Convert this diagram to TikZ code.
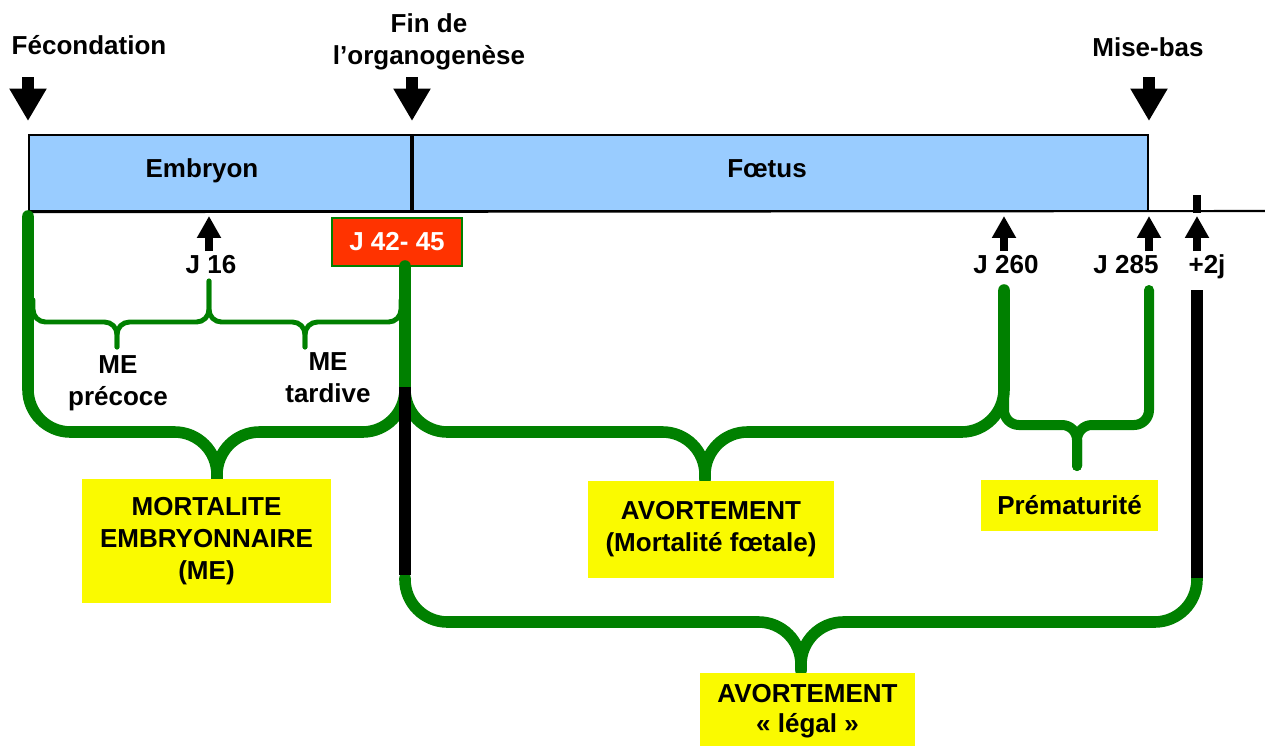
\documentclass[tikz,border=0pt]{standalone}
\usepackage{fontspec}
\setmainfont{Liberation Sans}
\usetikzlibrary{arrows.meta}
\definecolor{barblue}{RGB}{153,204,255}
\definecolor{bracegreen}{RGB}{0,128,0}
\definecolor{noteyellow}{RGB}{250,250,0}
\definecolor{dayred}{RGB}{255,51,0}
\tikzset{
  bar-box/.style={draw=black, line width=1.2pt, fill=barblue, minimum height=1.52cm, inner sep=0pt, anchor=north west},
  bar-line/.style={line width=1.2pt},
  arrow-down/.style={line width=6.3pt, -{Triangle[width=20pt,length=18.5pt]}},
  arrow-up/.style={line width=4.5pt, -{Triangle[width=13pt,length=12.5pt]}},
  tick-mark/.style={line width=4pt},
  brace-thick/.style={draw=bracegreen, line width=6.6pt, line cap=round, rounded corners=0.85cm},
  brace-mid/.style={draw=bracegreen, line width=5.7pt, line cap=round, rounded corners=0.3cm},
  brace-thin/.style={draw=bracegreen, line width=2.8pt, line cap=round, rounded corners=0.25cm},
  bar-black/.style={line width=6.6pt},
  day-box/.style={draw=bracegreen, line width=1.2pt, fill=dayred, text=white, minimum width=2.6cm, minimum height=0.96cm, inner sep=0pt},
  note-box/.style={fill=noteyellow, align=center, inner sep=0pt},
  txt/.style={anchor=base, inner sep=0pt, align=center}
}

\begin{document}
\begin{tikzpicture}[x=0.02cm, y=-0.02cm, font=\fontsize{14.8}{18.2}\selectfont\bfseries]
  \useasboundingbox (0,0) rectangle (1265,745);
  % stages bar
  \node[bar-box, minimum width=7.64cm] (embryon) at (28,134) {};
  \node[bar-box, minimum width=14.7cm] (foetus) at (embryon.north east) {};
  \coordinate (axis-end) at (1265,211);
  \draw[bar-line] (embryon.south west) -- (axis-end);
  \node[txt] (t-embryon) at (202,177) {Embryon};
  \node[txt] (t-foetus) at (767,177) {Fœtus};

  % events above the bar
  \node[txt] (fecondation) at (89,54) {Fécondation};
  \node[txt] (fin-organo) at (429,64) {Fin de\\l’organogenèse};
  \node[txt] (mise-bas) at (1148,56) {Mise-bas};
  \foreach \x/\n in {28/fec,412/org,1149/mb}{
    \coordinate (\n-top) at (\x,77);
    \coordinate (\n-tip) at (\x,121);
    \draw[arrow-down] (\n-top) -- (\n-tip);
  }

  % days below the bar
  \foreach \x/\n in {209/j16,1004/j260,1149/j285,1197/j2}{
    \coordinate (\n-foot) at (\x,251);
    \coordinate (\n-tip) at (\x,216);
    \draw[arrow-up] (\n-foot) -- (\n-tip);
  }
  \coordinate (tick-top) at (1197,195);
  \coordinate (tick-bot) at (1197,213);
  \draw[tick-mark] (tick-top) -- (tick-bot);
  \node[txt] (t-j16) at (211,273) {J 16};
  \node[txt] (t-j260) at (1006,273) {J 260};
  \node[txt] (t-j285) at (1126,273) {J 285};
  \node[txt] (t-j2) at (1207,273) {+2j};
  \node[day-box] (j42) at (397,242) {J 42- 45};
  \coordinate (j42-foot) at (405,266);

  % ME precoce / tardive
  \draw[brace-thin] (33,300) -- (33,322) -- (117,322) -- (117,347);
  \draw[brace-thin] (209,281) -- (209,322) -- (117,322) -- (117,347);
  \draw[brace-thin] (209,281) -- (209,322) -- (305,322) -- (305,347);
  \draw[brace-thin] (401,300) -- (401,322) -- (305,322) -- (305,347);
  \node[txt] (t-precoce) at (118,405) {ME\\précoce};
  \node[txt] (t-tardive) at (328,402) {ME\\tardive};

  % mortalite embryonnaire
  \draw[brace-thick] (28,216) -- (28,432) -- (217,432) -- (217,479);
  \draw[brace-thick] (j42-foot) -- (405,432) -- (217,432) -- (217,479);
  % avortement (foetus)
  \draw[brace-thick] (405,388) -- (405,432) -- (705,432) -- (705,479);
  \draw[brace-thick] (1004,290) -- (1004,432) -- (705,432) -- (705,479);
  % prematurite
  \draw[brace-mid] (1004,290) -- (1004,425) -- (1077,425) -- (1077,466);
  \draw[brace-mid] (1149,290) -- (1149,425) -- (1077,425) -- (1077,466);
  % avortement legal
  \draw[brace-thick] (405,578) -- (405,622) -- (801,622) -- (801,670);
  \draw[brace-thick] (1197,578) -- (1197,622) -- (801,622) -- (801,670);
  \draw[bar-black] (405,387) -- (405,575);
  \draw[bar-black] (1197,290) -- (1197,578);

  % notes
  \node[note-box, minimum width=4.98cm, minimum height=2.48cm] (me-box) at (206.5,541) {MORTALITE\\EMBRYONNAIRE\\(ME)};
  \node[note-box, minimum width=4.92cm, minimum height=1.94cm] (avort-box) at (711,529.5) {AVORTEMENT\\(Mortalité fœtale)};
  \node[note-box, minimum width=3.54cm, minimum height=1.02cm] (premat-box) at (1069.5,505.5) {Prématurité};
  \node[note-box, minimum width=4.3cm, minimum height=1.54cm, font=\fontsize{14.8}{17}\selectfont\bfseries] (legal-box) at (807.5,711.5) {AVORTEMENT\\« légal »};
\end{tikzpicture}
\end{document}
